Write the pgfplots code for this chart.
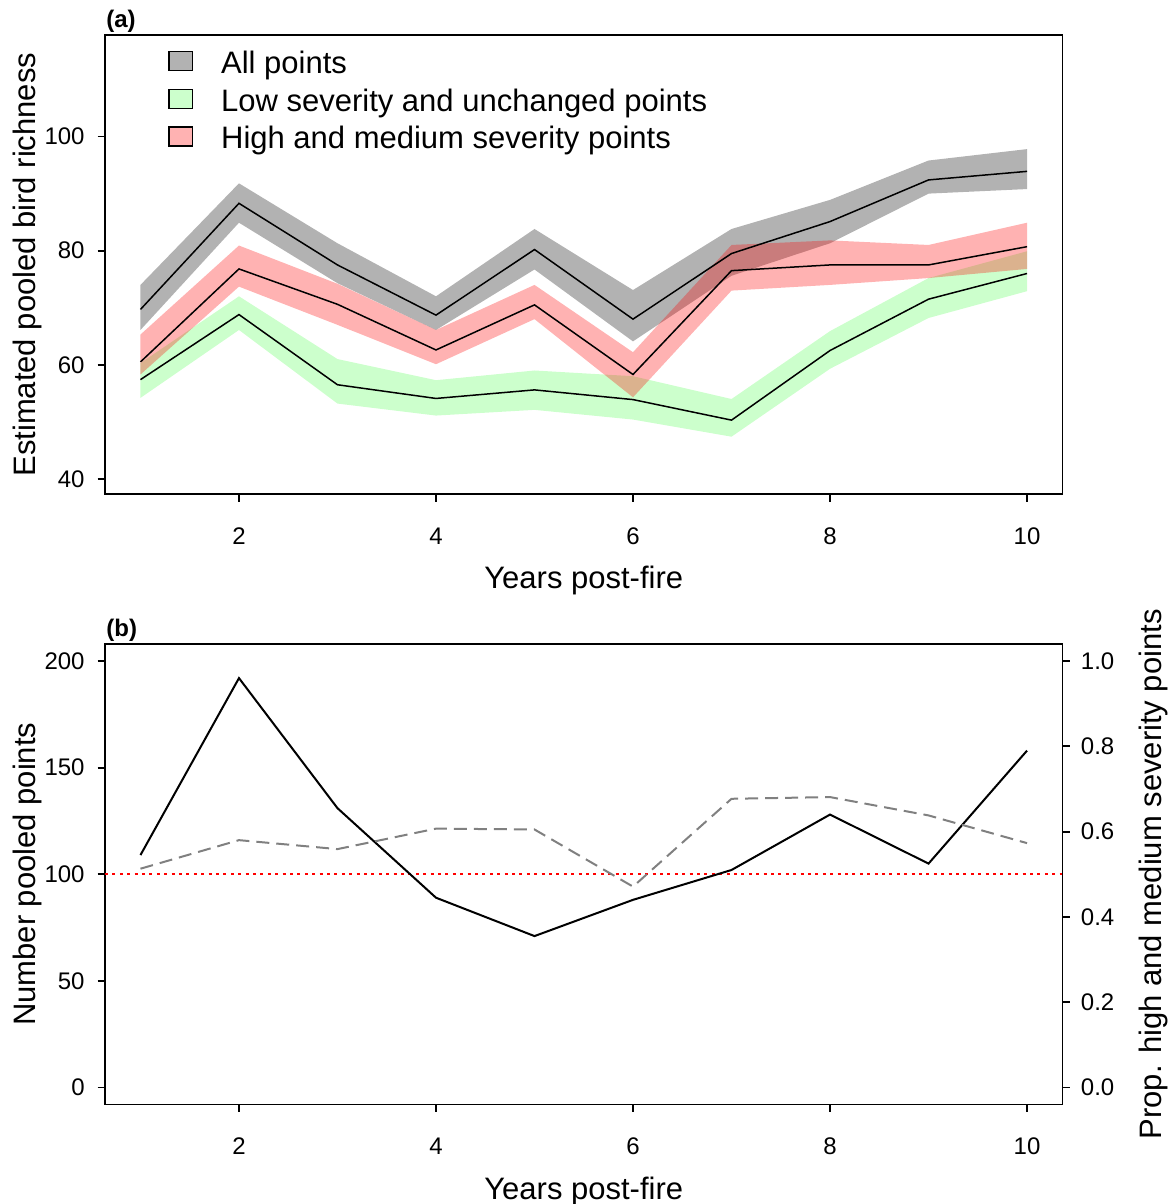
\documentclass[border=0pt]{standalone}
\usepackage{fontspec}
\setmainfont{Liberation Sans}
\usepackage{pgfplots}
\pgfplotsset{compat=1.18}
\begin{document}
\begin{tikzpicture}[x=1pt,y=1pt]
\useasboundingbox (0,0) rectangle (584.5,-602);
\pgfplotsset{
  common/.style={
    scale only axis, width=478.75pt,
    clip mode=individual,
    xmin=0.64, xmax=10.36,
    xtick={2,4,6,8,10},
    tick align=outside, major tick length=3.7pt,
    axis line style={line width=0.9pt},
    every tick/.style={black, line width=0.9pt},
    /pgf/number format/assume math mode=true,
    tick label style={font=\fontsize{12}{14}\selectfont},
    label style={font=\fontsize{15.5}{18}\selectfont},
    xtick pos=left, ytick pos=left,
    yticklabel style={anchor=east, inner sep=0pt, xshift=-6.3pt},
    xticklabel style={anchor=base, inner sep=0pt, yshift=-21.15pt},
    xlabel style={at={(axis description cs:0.5,-0.206)}, anchor=base, inner sep=0pt},
    ylabel style={at={(axis description cs:-0.0731,0.5)}, anchor=base, inner sep=0pt},
  }
}
% ---------------- panel (a) ----------------
\begin{axis}[common,
  at={(52.5pt,-17.5pt)}, anchor=north west,
  height=229.65pt,
  ymin=37.3, ymax=117.8,
  ytick={40,60,80,100},
  xlabel={Years post-fire},
  ylabel={Estimated pooled bird richness},
  legend style={draw=none, fill=none, inner sep=0pt, outer sep=0pt,
    at={(axis description cs:0.0661,0.984)}, anchor=north west,
    font=\fontsize{15.5}{18}\selectfont,
    row sep=0pt, column sep=0pt,
    nodes={inner sep=0pt, text height=15.5pt, text depth=3.35pt}},
  legend cell align=left,
  legend image code/.code={
    \draw[#1, draw=black, line width=0.75pt] (0pt,-4.75pt) rectangle (11.7pt,4.75pt);
    \path (25.85pt,0pt);
  },
]
% bands
\addplot[draw=none, fill=black, fill opacity=0.3, forget plot] coordinates {
 (1,74.0)(2,91.8)(3,81.3)(4,72.0)(5,83.8)(6,73.1)(7,83.8)(8,88.9)(9,95.8)(10,97.8)
 (10,90.8)(9,90.0)(8,81.3)(7,75.6)(6,64.1)(5,76.7)(4,66.1)(3,74.3)(2,84.9)(1,66.1)} --cycle;
\addplot[draw=none, fill=green, fill opacity=0.2, forget plot] coordinates {
 (1,60.3)(2,72.0)(3,61.0)(4,57.3)(5,59.0)(6,58.0)(7,54.0)(8,65.9)(9,75.2)(10,79.9)
 (10,72.9)(9,68.2)(8,59.3)(7,47.4)(6,50.4)(5,52.1)(4,51.1)(3,53.2)(2,66.1)(1,54.2)} --cycle;
\addplot[draw=none, fill=red, fill opacity=0.3, forget plot] coordinates {
 (1,65.3)(2,80.9)(3,74.2)(4,66.1)(5,74.0)(6,62.2)(7,81.0)(8,81.8)(9,81.0)(10,84.9)
 (10,76.8)(9,75.2)(8,74.0)(7,73.0)(6,54.3)(5,68.0)(4,60.1)(3,67.0)(2,73.7)(1,58.3)} --cycle;
% mean lines
\addplot[black, line width=0.75pt, forget plot] coordinates {
 (1,69.7)(2,88.3)(3,77.5)(4,68.7)(5,80.2)(6,68.0)(7,79.5)(8,85.1)(9,92.4)(10,93.9)};
\addplot[black, line width=0.75pt, forget plot] coordinates {
 (1,57.4)(2,68.8)(3,56.5)(4,54.1)(5,55.6)(6,53.9)(7,50.3)(8,62.5)(9,71.5)(10,76.0)};
\addplot[black, line width=0.75pt, forget plot] coordinates {
 (1,60.5)(2,76.8)(3,70.6)(4,62.6)(5,70.5)(6,58.3)(7,76.5)(8,77.5)(9,77.5)(10,80.7)};
\addlegendimage{fill=black!30}
\addlegendentry{All points}
\addlegendimage{fill=green!20}
\addlegendentry{Low severity and unchanged points}
\addlegendimage{fill=red!30}
\addlegendentry{High and medium severity points}
\node[anchor=base west, inner sep=0pt, font=\fontsize{12}{14}\selectfont\bfseries, xshift=0.5pt, yshift=3.9pt] at (rel axis cs:0,1) {(a)};
\end{axis}
% ---------------- panel (b) ----------------
\begin{axis}[common,
  at={(52.5pt,-322pt)}, anchor=north west,
  height=230.25pt,
  ymin=-8, ymax=208,
  ytick={0,50,100,150,200},
  xlabel={Years post-fire},
  ylabel={Number pooled points},
]
\addplot[red, line width=1pt, dash pattern=on 1.5pt off 2.2pt] coordinates {(0.64,100)(10.36,100)};
\addplot[black, line width=1pt] coordinates {
 (1,109)(2,192)(3,131)(4,89)(5,71)(6,88)(7,102)(8,128)(9,105)(10,158)};
\node[anchor=base west, inner sep=0pt, font=\fontsize{12}{14}\selectfont\bfseries, xshift=0.5pt, yshift=3.6pt] at (rel axis cs:0,1) {(b)};
\end{axis}
\begin{axis}[
  scale only axis, width=478.75pt, height=230.25pt,
  at={(52.5pt,-322pt)}, anchor=north west,
  xmin=0.64, xmax=10.36,
  ymin=-0.04, ymax=1.04,
  axis x line=none, axis y line*=right,
  ytick={0,0.2,0.4,0.6,0.8,1.0},
  ytick pos=right,
  tick align=outside, major tick length=3.7pt,
  axis line style={line width=0.9pt},
  every tick/.style={black, line width=0.9pt},
  /pgf/number format/assume math mode=true,
  yticklabel style={/pgf/number format/.cd, fixed, fixed zerofill, precision=1, /tikz/.cd,
    anchor=west, inner sep=0pt, xshift=5.3pt, font=\fontsize{12}{14}\selectfont},
  ylabel={Prop. high and medium severity points},
  ylabel style={at={(axis description cs:1.1029,0.5)}, anchor=base, inner sep=0pt, font=\fontsize{15.5}{18}\selectfont},
]
\addplot[gray, line width=1pt, dash pattern=on 6.5pt off 3.5pt] coordinates {
 (1,0.513)(2,0.580)(3,0.559)(4,0.607)(5,0.605)(6,0.471)(7,0.677)(8,0.681)(9,0.638)(10,0.573)};
\end{axis}
\end{tikzpicture}
\end{document}
